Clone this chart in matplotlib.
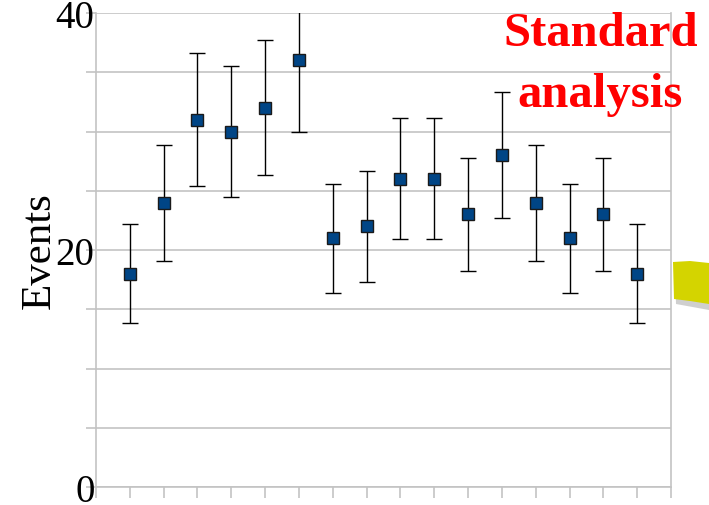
import numpy as np
import matplotlib.pyplot as plt
from matplotlib.patches import Polygon

# bin index, event counts and their uncertainties
bins = np.arange(1, 17)
events = [18, 24, 31, 30, 32, 36, 21, 22, 26, 26, 23, 28, 24, 21, 23, 18]
errors = [4.2, 4.9, 5.6, 5.5, 5.7, 6.0, 4.6, 4.7, 5.1, 5.1, 4.8, 5.3, 4.9, 4.6, 4.8, 4.2]
y_labels = {0: '0', 20: '20', 40: '40'}

plt.rcParams['font.family'] = ['Liberation Serif', 'DejaVu Serif']

fig = plt.figure(figsize=(7.09, 5.06), dpi=100)
ax = fig.add_axes([96 / 709, 18 / 506, 575 / 709, 474 / 506])

grid_col = '#c3c3c3'
ax.set_xlim(0, 17)
ax.set_ylim(0, 40)
ax.set_yticks(np.arange(0, 41, 5))
ax.set_yticklabels([y_labels.get(v, '') for v in range(0, 41, 5)], fontsize=28)
ax.set_xticks(np.arange(0, 18))
ax.set_xticklabels([])
ax.yaxis.grid(True, color=grid_col, linewidth=1.2)
ax.set_axisbelow(True)
ax.tick_params(axis='y', length=7, color=grid_col, width=1.2, pad=-6)
ax.tick_params(axis='x', length=8, color=grid_col, width=1.2)
for side in ['left', 'bottom', 'right']:
    ax.spines[side].set_color(grid_col)
    ax.spines[side].set_linewidth(1.2)
ax.spines['top'].set_visible(False)

ax.errorbar(bins, events, yerr=errors, fmt='s', color='black', ecolor='black',
            elinewidth=1, capsize=5.5, capthick=1,
            markerfacecolor='#004586', markeredgecolor='#1a1a1a',
            markersize=9, markeredgewidth=1, clip_on=True, zorder=3)

ax.set_ylabel('Events', fontsize=31, labelpad=-2)

fig.text(0.847, 0.872, 'Standard\nanalysis', color='red', fontsize=35,
         fontweight='bold', ha='center', va='center', linespacing=1.5)

# yellow arrow shape entering from the right edge
shadow = Polygon([(675 / 709, 1 - 268 / 506), (709 / 709, 1 - 270 / 506),
                  (709 / 709, 1 - 311 / 506), (676 / 709, 1 - 305 / 506)],
                 closed=True, transform=fig.transFigure, facecolor='#b0b0b0',
                 edgecolor='none', alpha=0.6)
arrow = Polygon([(673 / 709, 1 - 263 / 506), (690 / 709, 1 - 262 / 506),
                 (709 / 709, 1 - 264 / 506), (709 / 709, 1 - 305 / 506),
                 (690 / 709, 1 - 302 / 506), (674 / 709, 1 - 300 / 506)],
                closed=True, transform=fig.transFigure, facecolor='#d4d400',
                edgecolor='none')
fig.patches.extend([shadow, arrow])

fig.savefig('out.png', dpi=100)
